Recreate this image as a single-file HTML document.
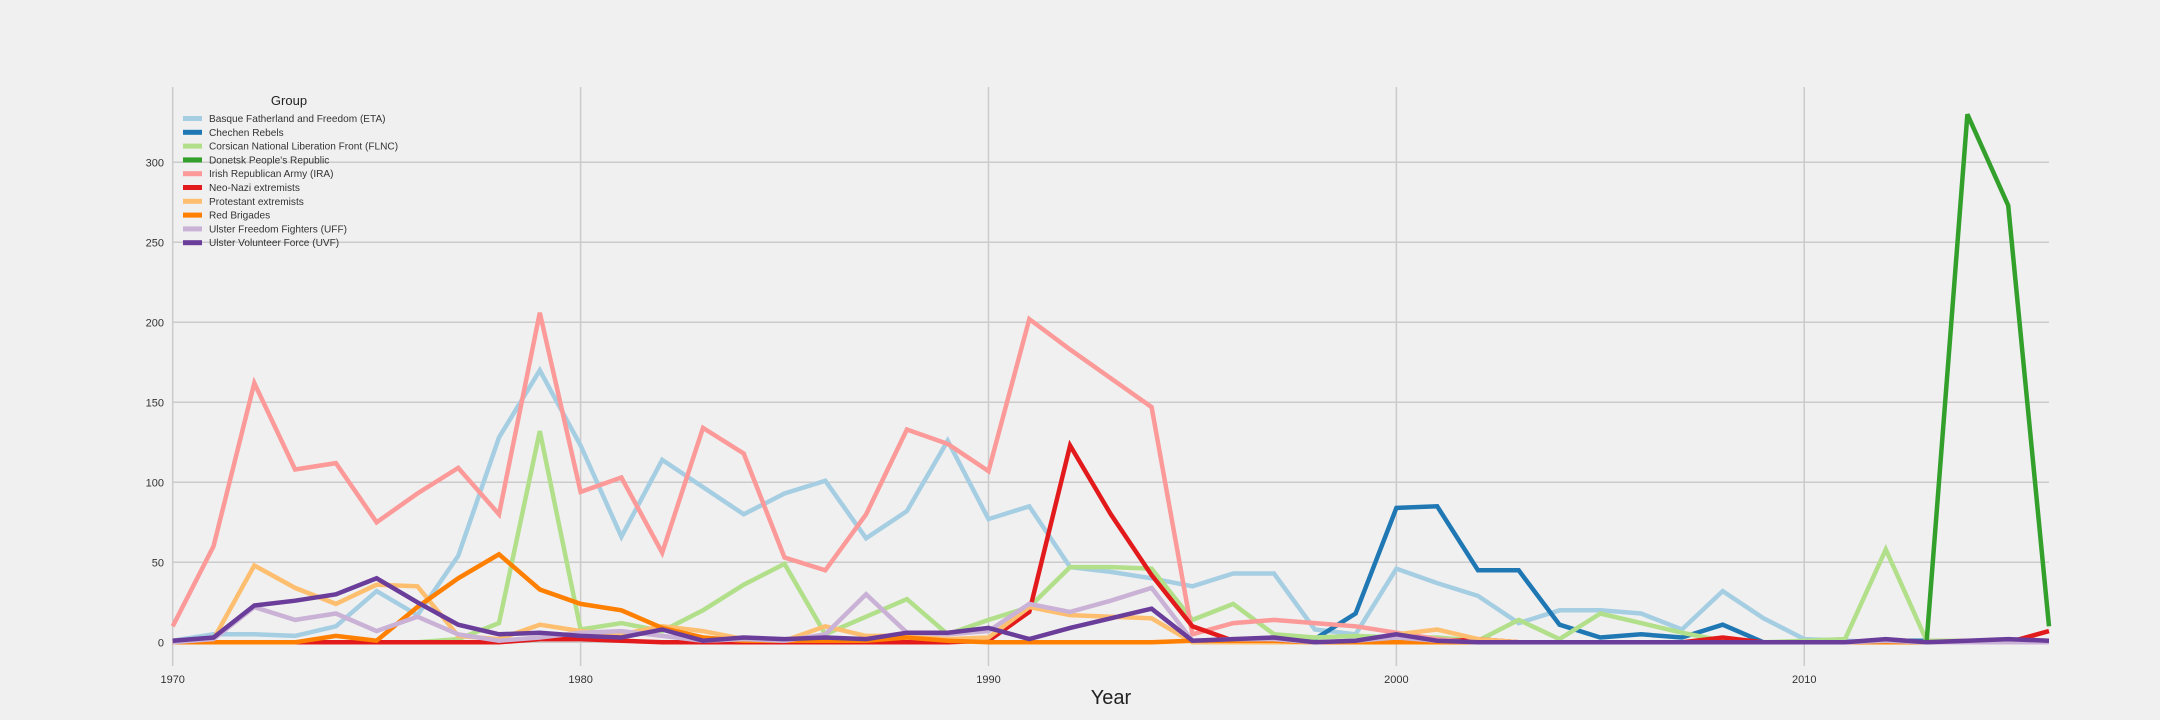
<!DOCTYPE html>
<html><head><meta charset="utf-8"><style>
html,body{margin:0;padding:0;background:#f0f0f0;}
svg{display:block;font-family:"Liberation Sans",sans-serif;}
</style></head><body>
<svg id="chart" width="2160" height="720" viewBox="0 0 2160 720" xmlns="http://www.w3.org/2000/svg">
<rect width="2160" height="720" fill="#f0f0f0"/>
<g id="grid"></g>
<g id="ticks"></g>
<g id="lines"></g>
<g id="legend"></g>
<text x="1111" y="704" font-size="20" fill="#222" text-anchor="middle">Year</text>
</svg>
<script>
const years = [];
for (let y = 1970; y <= 2016; y++) years.push(y);
const xTicks = [1970, 1980, 1990, 2000, 2010];
const yTicks = [0, 50, 100, 150, 200, 250, 300];
const groupNames = ["Basque Fatherland and Freedom (ETA)","Chechen Rebels","Corsican National Liberation Front (FLNC)","Donetsk People's Republic","Irish Republican Army (IRA)","Neo-Nazi extremists","Protestant extremists","Red Brigades","Ulster Freedom Fighters (UFF)","Ulster Volunteer Force (UVF)"];
const groupColors = ["#a6cee3","#1f78b4","#b2df8a","#33a02c","#fb9a99","#e31a1c","#fdbf6f","#ff7f00","#cab2d6","#6a3d9a"];
const _ = null;
const etaValues = [1,5,5,4,10,32,17,54,128,170,123,66,114,97,80,93,101,65,82,126,77,85,47,44,40,35,43,43,8,5,46,37,29,12,20,20,18,8,32,15,2,1,0,0,0,0,0];
const chechenValues = [_,_,_,_,_,_,_,_,_,_,_,_,_,_,_,_,_,_,_,_,_,_,_,_,_,_,_,0,2,18,84,85,45,45,11,3,5,3,11,0,0,0,1,1,1,1,1];
const flncValues = [0,0,0,0,0,0,0,2,12,132,8,12,7,20,36,49,5,16,27,5,14,22,47,47,46,14,24,5,3,4,3,3,1,14,2,18,12,6,1,0,1,2,58,1,1,1,1];
const donetskValues = [_,_,_,_,_,_,_,_,_,_,_,_,_,_,_,_,_,_,_,_,_,_,_,_,_,_,_,_,_,_,_,_,_,_,_,_,_,_,_,_,_,_,_,0,330,273,10];
const iraValues = [10,60,162,108,112,75,93,109,80,206,94,103,56,134,118,53,45,80,133,124,107,202,183,165,147,5,12,14,12,10,6,2,0,0,0,0,0,0,0,0,0,0,1,0,1,1,1];
const neoNaziValues = [0,0,0,0,0,0,0,0,0,2,2,1,0,0,0,0,0,0,0,0,1,19,123,80,42,10,1,1,0,0,0,0,2,0,0,0,0,0,3,0,0,0,0,0,0,0,7];
const protestantValues = [0,2,48,34,24,36,35,4,2,11,7,5,10,7,2,1,10,4,4,2,3,22,17,16,15,0,0,0,0,0,5,8,2,0,0,0,0,0,0,0,0,0,0,0,0,0,0];
const redBrigadesValues = [0,0,0,0,4,1,22,40,55,33,24,20,9,3,1,1,1,1,3,1,0,0,0,0,0,1,1,1,0,0,0,0,0,0,0,0,0,0,0,0,0,0,0,0,0,0,0];
const uffValues = [0,2,22,14,18,7,16,5,1,3,6,7,4,1,2,1,5,30,6,5,7,24,19,26,34,1,2,2,0,1,3,1,0,0,0,0,0,0,0,0,0,0,1,0,0,0,0];
const uvfValues = [1,3,23,26,30,40,25,11,5,6,4,3,8,1,3,2,3,2,6,6,9,2,9,15,21,1,2,3,0,1,5,1,0,0,0,0,0,0,0,0,0,0,2,0,1,2,1];
const seriesValues = [etaValues,chechenValues,flncValues,donetskValues,iraValues,neoNaziValues,protestantValues,redBrigadesValues,uffValues,uvfValues];

const NS = "http://www.w3.org/2000/svg";
const plotL = 172.7, plotR = 2049, plotT = 87, plotB = 666;
const xMin = 1970, xMax = 2016;
function xScale(v){ return plotL + (v - xMin) / (xMax - xMin) * (plotR - plotL); }
function yScale(v){ return 642.3 - v * 1.6; }
function mk(tag, attrs, parent){ const e = document.createElementNS(NS, tag); for (const k in attrs) e.setAttribute(k, attrs[k]); parent.appendChild(e); return e; }

const grid = document.getElementById('grid'), ticks = document.getElementById('ticks');
yTicks.forEach(t => {
  const l = mk('line', {x1: plotL, x2: plotR, y1: yScale(t), y2: yScale(t), stroke: '#cbcbcb', 'stroke-width': 1.5}, grid);
  
  
  const tx = mk('text', {x: 164, y: yScale(t) + 4, 'font-size': 11, fill: '#333', 'text-anchor': 'end'}, ticks);
  tx.textContent = t;
  
  
});
xTicks.forEach(t => {
  const l = mk('line', {x1: xScale(t), x2: xScale(t), y1: plotT, y2: plotB, stroke: '#cbcbcb', 'stroke-width': 1.5}, grid);
  
  
  const tx = mk('text', {x: xScale(t), y: 683, 'font-size': 11, fill: '#333', 'text-anchor': 'middle'}, ticks);
  tx.textContent = t;
  
  
});

const linesG = document.getElementById('lines');
seriesValues.forEach((vals, i) => {
  let d = '', pen = false;
  vals.forEach((v, j) => {
    if (v === null) { pen = false; return; }
    d += (pen ? 'L' : 'M') + xScale(years[j]).toFixed(1) + ',' + yScale(v).toFixed(1);
    pen = true;
  });
  const p = mk('path', {d: d, fill: 'none', stroke: groupColors[i], 'stroke-width': 4.5, 'stroke-linejoin': 'miter', 'stroke-linecap': 'butt'}, linesG);
  
  
});

const lg = document.getElementById('legend');
const title = mk('text', {x: 289, y: 105, 'font-size': 13, fill: '#222', 'text-anchor': 'middle'}, lg);
title.textContent = 'Group';


groupNames.forEach((n, i) => {
  const y = 118.5 + i * 13.8;
  const sw = mk('rect', {x: 183, y: y - 2.5, width: 19, height: 5, fill: groupColors[i]}, lg);
  
  
  const t = mk('text', {x: 209, y: y + 3.5, 'font-size': 10.1, fill: '#333'}, lg);
  t.textContent = n;
  
  
});
</script>
</body></html>
